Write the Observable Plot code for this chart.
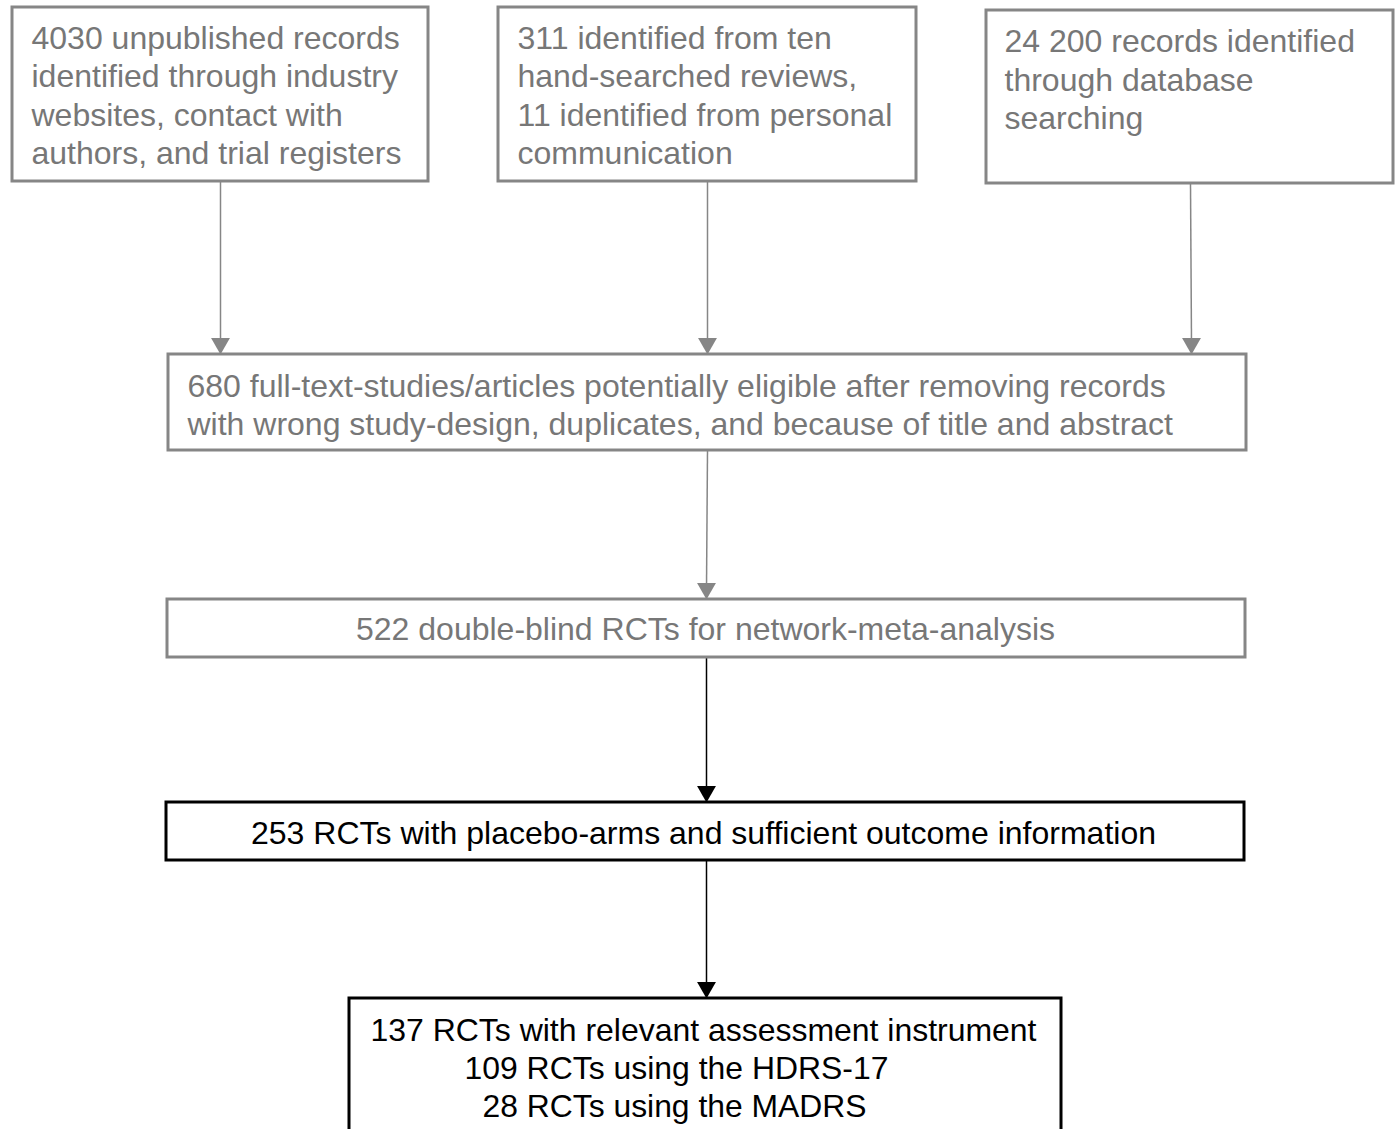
<!DOCTYPE html>
<html>
<head>
<meta charset="utf-8">
<script src="https://cdn.jsdelivr.net/npm/d3@7"></script>
<script src="https://cdn.jsdelivr.net/npm/@observablehq/plot@0.6"></script>
<style>
  html, body { margin: 0; padding: 0; background: #fff; }
  #chart svg { display: block; }
</style>
</head>
<body>
<div id="chart"></div>
<script>
// ---- Text content of the flow diagram ----
const sourceUnpublished = ["4030 unpublished records", "identified through industry", "websites, contact with", "authors, and trial registers"];
const sourceHandSearch = ["311 identified from ten", "hand-searched reviews,", "11 identified from personal", "communication"];
const sourceDatabase = ["24 200 records identified", "through database", "searching"];
const eligibleStudies = ["680 full-text-studies/articles potentially eligible after removing records", "with wrong study-design, duplicates, and because of title and abstract"];
const networkRCTs = ["522 double-blind RCTs for network-meta-analysis"];
const placeboRCTs = ["253 RCTs with placebo-arms and sufficient outcome information"];
const instrumentRCTs = ["137 RCTs with relevant assessment instrument", "109 RCTs using the HDRS-17", "28 RCTs using the MADRS"];

// ---- Layout (pixel coordinates of the diagram canvas) ----
const W = 1395, H = 1129;
const GRAY = "#868686", GRAYTEXT = "#777777", BLACK = "#000000";

const boxes = [
  {x1: 12,  x2: 428,  y1: 7,   y2: 181,  c: GRAY},
  {x1: 498, x2: 916,  y1: 7,   y2: 181,  c: GRAY},
  {x1: 986, x2: 1393, y1: 10,  y2: 183,  c: GRAY},
  {x1: 168, x2: 1246, y1: 354, y2: 450,  c: GRAY},
  {x1: 167, x2: 1245, y1: 599, y2: 657,  c: GRAY},
  {x1: 166, x2: 1244, y1: 802, y2: 860,  c: BLACK},
  {x1: 349, x2: 1061, y1: 998, y2: 1150, c: BLACK}
];

const blocks = [
  {lines: sourceUnpublished, x: 31,   ys: [38, 76, 115, 153], anchor: "start", c: GRAYTEXT},
  {lines: sourceHandSearch,  x: 517,  ys: [38, 76, 115, 153], anchor: "start", c: GRAYTEXT},
  {lines: sourceDatabase,    x: 1004, ys: [41, 80, 118],      anchor: "start", c: GRAYTEXT},
  {lines: eligibleStudies,   x: 187,  ys: [386, 424],         anchor: "start", c: GRAYTEXT},
  {lines: networkRCTs,       x: 705,  ys: [629],              anchor: "middle", c: GRAYTEXT},
  {lines: placeboRCTs,       x: 703,  ys: [833],              anchor: "middle", c: BLACK, len: [905]},
  {lines: instrumentRCTs,    xs: [703, 676, 674], ys: [1030, 1068, 1106], anchor: "middle", c: BLACK, len: [666, 424, 384]}
];

const textRows = [];
blocks.forEach(b => b.lines.forEach((t, i) => textRows.push({
  text: t, x: b.xs ? b.xs[i] : b.x, y: b.ys[i], anchor: b.anchor, c: b.c, len: b.len ? b.len[i] : null
})));

const arrows = [
  {x1: 220, y1: 181, x2: 220, y2: 352, c: GRAY},
  {x1: 707, y1: 181, x2: 707, y2: 352, c: GRAY},
  {x1: 1190, y1: 183, x2: 1191, y2: 352, c: GRAY},
  {x1: 707, y1: 450, x2: 706, y2: 597, c: GRAY},
  {x1: 706, y1: 657, x2: 706, y2: 800, c: BLACK},
  {x1: 706, y1: 860, x2: 706, y2: 996, c: BLACK}
];

const startRows = textRows.filter(d => d.anchor === "start");
const midRows = textRows.filter(d => d.anchor === "middle");

const chart = Plot.plot({
  width: W, height: H,
  margin: 0,
  x: {domain: [0, W], range: [0, W], axis: null},
  y: {domain: [0, H], range: [0, H], axis: null},
  style: {fontFamily: "'Liberation Sans', Arial, sans-serif", background: "#fff"},
  marks: [
    Plot.link(arrows, {x1: "x1", y1: "y1", x2: "x2", y2: d => d.y2 - 9, stroke: d => d.c, strokeWidth: 1.5}),
    Plot.dot(arrows, {x: "x2", y: d => d.y2 - 9, symbol: "triangle", r: 7, fill: d => d.c, stroke: "none", rotate: 180}),
    Plot.rect(boxes, {x1: "x1", x2: "x2", y1: "y1", y2: "y2", fill: "white", stroke: d => d.c, strokeWidth: 3}),
    Plot.text(startRows, {x: "x", y: "y", text: "text", textAnchor: "start", fill: d => d.c, fontSize: 32}),
    Plot.text(midRows, {x: "x", y: "y", text: "text", textAnchor: "middle", fill: d => d.c, fontSize: 32,
      className: "mid-text"})
  ]
});

// compress the black condensed-looking lines to their reference widths
d3.select(chart).selectAll(".mid-text text").each(function(i) {
  const row = midRows[i];
  if (row && row.len) {
    d3.select(this).attr("textLength", row.len).attr("lengthAdjust", "spacingAndGlyphs");
  }
});

document.getElementById("chart").appendChild(chart);
</script>
</body>
</html>
